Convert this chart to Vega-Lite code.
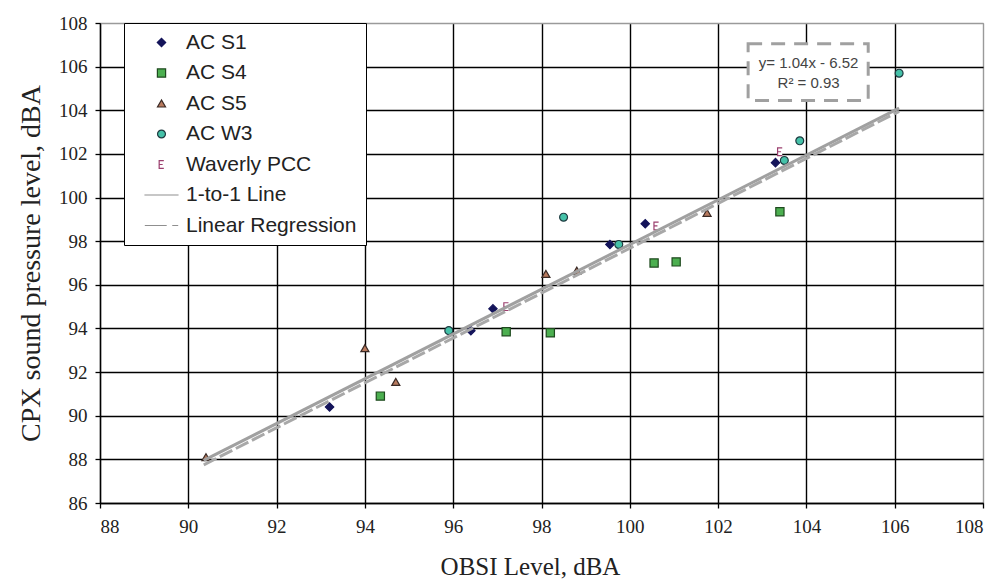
{
  "$schema": "https://vega.github.io/schema/vega-lite/v6.json",
  "width": 883,
  "height": 480,
  "autosize": {"type": "none"},
  "padding": {"left": 100, "top": 23, "right": 12, "bottom": 82},
  "background": "white",
  "config": {
    "view": {"stroke": "#9a9a9a", "strokeWidth": 1},
    "axis": {
      "labelFont": "Liberation Serif",
      "labelFontSize": 19,
      "labelColor": "#222",
      "titleFont": "Liberation Serif",
      "titleFontSize": 25,
      "titleFontWeight": "normal",
      "titleColor": "#222",
      "domainColor": "black",
      "domainWidth": 1.3,
      "tickColor": "black",
      "tickWidth": 1.3,
      "tickSize": 5,
      "gridWidth": 1.4
    },
    "legend": {
      "orient": "none",
      "legendX": 24,
      "legendY": 0,
      "strokeColor": "black",
      "fillColor": "white",
      "padding": 9,
      "labelFont": "Liberation Sans",
      "labelFontSize": 21,
      "labelColor": "#222",
      "labelOffset": 14,
      "labelLimit": 300,
      "symbolOffset": 18,
      "rowPadding": 8.5
    }
  },
  "datasets": {
    "pts": [
      {"series": "AC S1", "obsi": 93.2, "cpx": 90.4},
      {"series": "AC S1", "obsi": 96.4, "cpx": 93.9},
      {"series": "AC S1", "obsi": 96.9, "cpx": 94.9},
      {"series": "AC S1", "obsi": 99.55, "cpx": 97.85},
      {"series": "AC S1", "obsi": 100.35, "cpx": 98.8},
      {"series": "AC S1", "obsi": 103.3, "cpx": 101.6},
      {"series": "AC S4", "obsi": 94.35, "cpx": 90.9},
      {"series": "AC S4", "obsi": 97.2, "cpx": 93.85},
      {"series": "AC S4", "obsi": 98.2, "cpx": 93.8},
      {"series": "AC S4", "obsi": 100.55, "cpx": 97.0},
      {"series": "AC S4", "obsi": 101.05, "cpx": 97.05},
      {"series": "AC S4", "obsi": 103.4, "cpx": 99.35},
      {"series": "AC S5", "obsi": 90.4, "cpx": 88.1},
      {"series": "AC S5", "obsi": 94.0, "cpx": 93.1},
      {"series": "AC S5", "obsi": 94.7, "cpx": 91.55},
      {"series": "AC S5", "obsi": 98.1, "cpx": 96.5},
      {"series": "AC S5", "obsi": 98.8, "cpx": 96.65},
      {"series": "AC S5", "obsi": 101.75, "cpx": 99.3},
      {"series": "AC W3", "obsi": 95.9, "cpx": 93.9},
      {"series": "AC W3", "obsi": 99.75, "cpx": 97.85},
      {"series": "AC W3", "obsi": 98.5, "cpx": 99.1},
      {"series": "AC W3", "obsi": 103.5, "cpx": 101.7},
      {"series": "AC W3", "obsi": 103.85, "cpx": 102.6},
      {"series": "AC W3", "obsi": 106.1, "cpx": 105.7},
      {"series": "Waverly PCC", "obsi": 97.2, "cpx": 95.0},
      {"series": "Waverly PCC", "obsi": 100.6, "cpx": 98.7},
      {"series": "Waverly PCC", "obsi": 103.4, "cpx": 102.1}
    ],
    "oneToOne": [
      {"series": "1-to-1 Line", "obsi": 90.35, "cpx": 87.95},
      {"series": "1-to-1 Line", "obsi": 106.1, "cpx": 104.1}
    ],
    "regression": [
      {"series": "Linear Regression", "obsi": 90.35, "cpx": 87.75},
      {"series": "Linear Regression", "obsi": 106.1, "cpx": 103.95}
    ],
    "box": [
      {"x1": 102.68, "x2": 105.4, "y1": 107.05, "y2": 104.45}
    ],
    "eq": [
      {"label": "y= 1.04x - 6.52", "obsi": 104.05, "cpx": 106.15},
      {"label": "R² = 0.93", "obsi": 104.05, "cpx": 105.25}
    ]
  },
  "layer": [
    {
      "data": {"name": "pts"},
      "mark": {"type": "point", "opacity": 1},
      "encoding": {
        "x": {
          "field": "obsi", "type": "quantitative",
          "scale": {"domain": [88, 108], "nice": false, "zero": false},
          "axis": {
            "values": [88, 90, 92, 94, 96, 98, 100, 102, 104, 106, 108],
            "title": "OBSI Level, dBA",
            "titleX": 430,
            "labelPadding": 9,
            "titlePadding": 18,
            "gridColor": {"condition": {"test": "datum.value === 108", "value": "#9a9a9a"}, "value": "black"}
          }
        },
        "y": {
          "field": "cpx", "type": "quantitative",
          "scale": {"domain": [86, 108], "nice": false, "zero": false},
          "axis": {
            "values": [86, 88, 90, 92, 94, 96, 98, 100, 102, 104, 106, 108],
            "title": "CPX sound pressure level, dBA",
            "titleFontSize": 28,
            "labelPadding": 8,
            "titlePadding": 13,
            "gridColor": {"condition": {"test": "datum.value === 108", "value": "#9a9a9a"}, "value": "black"}
          }
        },
        "shape": {
          "field": "series", "type": "nominal",
          "scale": {
            "domain": ["AC S1", "AC S4", "AC S5", "AC W3", "Waverly PCC", "1-to-1 Line", "Linear Regression"],
            "range": ["diamond", "square", "triangle-up", "circle", "M0.6,-1H-0.6V1H0.6M-0.6,0H0.3", "M-4.5,0H4.5", "M-4.5,0H1.4M2.9,0H4.5"]
          },
          "legend": {"title": null}
        },
        "fill": {
          "field": "series", "type": "nominal",
          "scale": {
            "domain": ["AC S1", "AC S4", "AC S5", "AC W3", "Waverly PCC", "1-to-1 Line", "Linear Regression"],
            "range": ["#14145a", "#4caf50", "#b87a5e", "#45c1a8", "white", "transparent", "transparent"]
          },
          "legend": {"title": null}
        },
        "stroke": {
          "field": "series", "type": "nominal",
          "scale": {
            "domain": ["AC S1", "AC S4", "AC S5", "AC W3", "Waverly PCC", "1-to-1 Line", "Linear Regression"],
            "range": ["#14145a", "#1e4a1e", "#3a2a25", "#1f3a40", "#9b3f6e", "#8f8f8f", "#8f8f8f"]
          },
          "legend": {"title": null}
        },
        "strokeWidth": {
          "field": "series", "type": "nominal",
          "scale": {
            "domain": ["AC S1", "AC S4", "AC S5", "AC W3", "Waverly PCC", "1-to-1 Line", "Linear Regression"],
            "range": [1.2, 1.2, 1.2, 1.2, 1.2, 3, 3]
          },
          "legend": {"title": null}
        },
        "size": {
          "field": "series", "type": "nominal",
          "scale": {
            "domain": ["AC S1", "AC S4", "AC S5", "AC W3", "Waverly PCC", "1-to-1 Line", "Linear Regression"],
            "range": [70, 55, 60, 50, 35, 256, 256]
          },
          "legend": {"title": null}
        }
      }
    },
    {
      "data": {"name": "regression"},
      "mark": {"type": "line", "stroke": "#a8a8a8", "strokeWidth": 3, "strokeDash": [14, 4]},
      "encoding": {
        "x": {"field": "obsi", "type": "quantitative"},
        "y": {"field": "cpx", "type": "quantitative"}
      }
    },
    {
      "data": {"name": "oneToOne"},
      "mark": {"type": "line", "stroke": "#a0a0a0", "strokeWidth": 3},
      "encoding": {
        "x": {"field": "obsi", "type": "quantitative"},
        "y": {"field": "cpx", "type": "quantitative"}
      }
    },
    {
      "data": {"name": "box"},
      "mark": {"type": "rect", "fill": "white", "stroke": "#a0a0a0", "strokeWidth": 3, "strokeDash": [14, 9]},
      "encoding": {
        "x": {"field": "x1", "type": "quantitative"},
        "x2": {"field": "x2"},
        "y": {"field": "y1", "type": "quantitative"},
        "y2": {"field": "y2"}
      }
    },
    {
      "data": {"name": "eq"},
      "mark": {"type": "text", "font": "Liberation Sans", "fontSize": 15, "color": "#444", "align": "center", "baseline": "middle"},
      "encoding": {
        "x": {"field": "obsi", "type": "quantitative"},
        "y": {"field": "cpx", "type": "quantitative"},
        "text": {"field": "label", "type": "nominal"}
      }
    }
  ]
}
